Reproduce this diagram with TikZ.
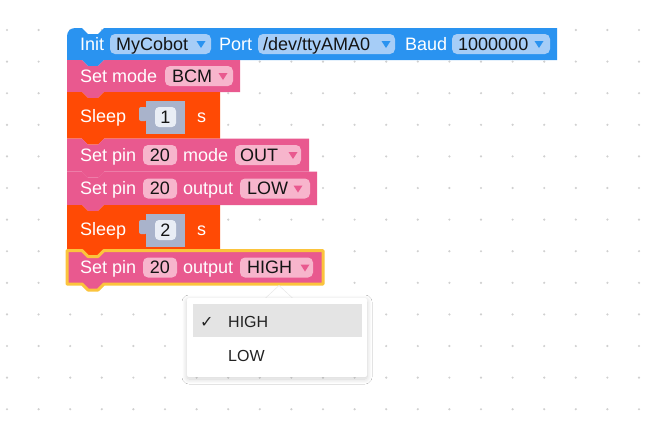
\documentclass[tikz,border=0pt]{standalone}
\usepackage{fontspec}
\setmainfont{Liberation Sans}
\newfontfamily\symfont{DejaVu Sans}
\usepackage{xcolor}
\usetikzlibrary{shadows.blur}
\definecolor{blockblue}{HTML}{2A93F0}
\definecolor{blockpink}{HTML}{E9598F}
\definecolor{blockorange}{HTML}{FF4A05}
\definecolor{fieldblue}{HTML}{A6CDF7}
\definecolor{fieldpink}{HTML}{F7B5CC}
\definecolor{slotgray}{HTML}{A9B3CB}
\definecolor{numfill}{HTML}{E9EDF5}
\definecolor{selyel}{HTML}{FBC43D}
\definecolor{dotgray}{HTML}{D0D0D0}
\definecolor{hilite}{HTML}{E4E4E4}
\definecolor{valtext}{HTML}{141414}
\definecolor{menutext}{HTML}{222222}
\tikzset{
  lbl/.style={anchor=base west, inner sep=0pt, text=white, font=\fontsize{18}{20}\selectfont},
  val/.style={lbl, text=valtext},
  num/.style={lbl, anchor=base, text=valtext},
  item/.style={anchor=base west, inner sep=0pt, text=menutext, font=\fontsize{16}{18}\selectfont},
}
\newcommand{\blk}[4]{\path[#1] (67,#2) -- (82,#2) -- (88,#2+6) -- (98,#2+6) -- (104,#2) -- (#4,#2) -- (#4,#3) -- (104,#3) -- (98,#3+6) -- (88,#3+6) -- (82,#3) -- (67,#3) -- cycle;}
\newcommand{\fld}[5]{\fill[#1, rounded corners=5pt] (#2,#3) rectangle (#4,#5);}
\newcommand{\tri}[3]{\fill[#1] (#2-4.5,#3-3) -- (#2+4.5,#3-3) -- (#2,#3+4) -- cycle;}
\newcommand{\slot}[1]{\fill[slotgray] (146,#1) rectangle (185,#1+33);
  \fill[slotgray, rounded corners=2pt] (147,#1+6) -- (139,#1+6) -- (139,#1+20) -- (147,#1+20) -- cycle;
  \fill[numfill, rounded corners=4pt] (155,#1+6) rectangle (176,#1+26);}

\begin{document}
\begin{tikzpicture}[x=1pt, y=-1pt]
\useasboundingbox (0,0) rectangle (651,429);
\fill[white] (0,0) rectangle (651,429);
\foreach \i in {0,...,20}{\foreach \j in {0,...,12}{
  \fill[dotgray] (7+31.6*\i,30+31.6*\j) circle (1.2pt);}}

% init block
\fill[blockblue] (67,60) -- (67,36) arc[start angle=180, end angle=90, radius=8pt] -- (82,28) -- (88,34) -- (98,34) -- (104,28) -- (557,28) -- (557,60) -- (104,60) -- (98,66) -- (88,66) -- (82,60) -- cycle;
\node[lbl] (init) at (80,50) {Init};
\fld{fieldblue}{110}{34}{211}{54}
\node[val] (robot) at (116,50) {MyCobot};
\tri{blockblue}{201}{44}
\node[lbl] (port) at (219,50) {Port};
\fld{fieldblue}{258}{34}{395}{54}
\node[val] (portval) at (263,50) {/dev/ttyAMA0};
\tri{blockblue}{386}{44}
\node[lbl] (baud) at (405,50) {Baud};
\fld{fieldblue}{452}{34}{550}{54}
\node[val] (baudval) at (458,50) {1000000};
\tri{blockblue}{539}{44}

\blk{fill=blockpink}{60}{92}{240}
\node[lbl] (setmode) at (80,82) {Set mode};
\fld{fieldpink}{165}{66}{233}{86}
\node[val] (modeval) at (172,82) {BCM};
\tri{blockpink}{223}{76}

\blk{fill=blockorange}{92}{138.5}{220}
\node[lbl] (sleepa) at (80,122) {Sleep};
\slot{101}
\node[num] (numa) at (165.5,123) {1};
\node[lbl] (seca) at (197,122) {s};

\blk{fill=blockpink}{138.5}{171.5}{309}
\node[lbl] (pina) at (80,161) {Set pin};
\fld{fieldpink}{143}{145}{177}{165}
\node[num] (pinnuma) at (160,161) {20};
\node[lbl] (pinmode) at (183,161) {mode};
\fld{fieldpink}{235}{145}{301}{165}
\node[val] (outval) at (240,161) {OUT};
\tri{blockpink}{293}{155}

\blk{fill=blockpink}{171.5}{205}{317}
\node[lbl] (pinb) at (80,194.5) {Set pin};
\fld{fieldpink}{143}{178.5}{177}{198.5}
\node[num] (pinnumb) at (160,194.5) {20};
\node[lbl] (outb) at (183,194.5) {output};
\fld{fieldpink}{240}{178.5}{310}{198.5}
\node[val] (lowval) at (247,194.5) {LOW};
\tri{blockpink}{298}{188.5}

\blk{fill=blockorange}{205}{250.5}{220}
\node[lbl] (sleepb) at (80,235) {Sleep};
\slot{214}
\node[num] (numb) at (165.5,236) {2};
\node[lbl] (secb) at (197,235) {s};

\blk{fill=blockpink, draw=selyel, line width=3pt, line join=round}{250.5}{284}{323}
\node[lbl] (pinc) at (80,273.5) {Set pin};
\fld{fieldpink}{143}{257.5}{177}{277.5}
\node[num] (pinnumc) at (160,273.5) {20};
\node[lbl] (outc) at (183,273.5) {output};
\fld{fieldpink}{240}{257.5}{313}{277.5}
\node[val] (highval) at (247,273.5) {HIGH};
\tri{blockpink}{305}{267.5}

% dropdown menu
\filldraw[fill=white, draw=black!10] (265,298.5) -- (279,285.5) -- (293,298.5);
\fill[white, rounded corners=2pt, blur shadow={shadow xshift=0pt, shadow yshift=-2pt, shadow blur radius=5pt, shadow blur steps=10, shadow opacity=18}] (187,298) rectangle (367,377);
\fill[hilite] (193,304) rectangle (362,337);
\node[item, font=\symfont\fontsize{16}{18}\selectfont] (tick) at (200,327) {✓};
\node[item] (itemhigh) at (228,327) {HIGH};
\node[item] (itemlow) at (228,361) {LOW};
\end{tikzpicture}
\end{document}
